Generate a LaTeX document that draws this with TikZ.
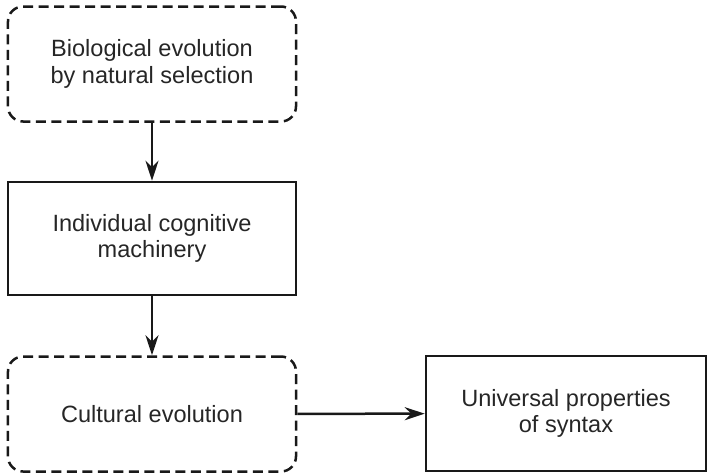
\documentclass[tikz,border=0pt]{standalone}
\usepackage{fontspec}
\setmainfont{Liberation Sans}
\usetikzlibrary{arrows.meta}

\begin{document}
\begin{tikzpicture}[
    box/.style={draw=black!90, line width=0.05cm, minimum width=5.76cm, minimum height=2.3cm,
      inner sep=0pt, align=center, text=black!85, font=\fontsize{13.4}{15.2}\selectfont},
    dashbox/.style={box, rounded corners=0.3cm, dash pattern=on 0.2cm off 0.11cm},
    solidbox/.style={box},
    arr/.style={draw=black!90, line width=0.05cm, -{Stealth[length=0.4cm,width=0.26cm]}}
  ]

      \useasboundingbox (0,0) rectangle (14.14,-9.46);

      \node[dashbox] (bio) at (3.04,-1.28) {Biological evolution\\by natural selection};
      \node[solidbox, minimum height=2.26cm] (cog) at (3.04,-4.77) {Individual cognitive\\machinery};
      \node[dashbox] (cult) at (3.04,-8.28) {Cultural evolution};
      \node[solidbox, minimum width=5.6cm] (syn) at (11.32,-8.27) {Universal properties\\of syntax};

      \draw[arr] (bio) -- (cog);
      \draw[arr] (cog) -- (cult);
      \draw[arr] (cult) -- (syn);

    \end{tikzpicture}
\end{document}
